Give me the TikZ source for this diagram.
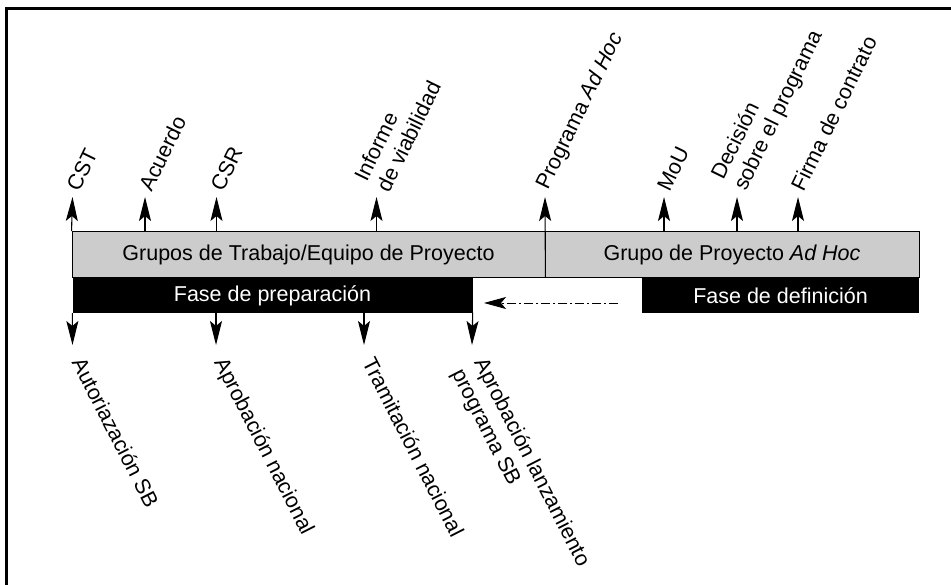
\documentclass[tikz,border=0pt]{standalone}
\usepackage{fontspec}
\setmainfont{Liberation Sans}
\usetikzlibrary{arrows.meta,calc}

\tikzset{
  lbl/.style={font=\fontsize{21.5}{25}\selectfont, inner sep=0pt, align=left},
  uplbl/.style={lbl, rotate=64, anchor=south west},
  dnlbl/.style={lbl, rotate=-63, anchor=north west},
  graybox/.style={draw=black, line width=0.9pt, fill=black!20, inner sep=0pt,
    font=\fontsize{21.5}{25}\selectfont},
  blackbox/.style={fill=black, text=white, inner sep=0pt,
    font=\fontsize{21.5}{25}\selectfont},
  milestone/.style={line width=1.1pt,
    -{Stealth[length=24pt,width=12pt,inset=5pt]}},
  backflow/.style={line width=0.9pt, dash pattern=on 9pt off 3pt on 2pt off 3pt,
    -{Stealth[length=22pt,width=12pt,inset=5pt]}},
  frameline/.style={line width=3pt}
}

\begin{document}
\begin{tikzpicture}[x=1pt, y=-1pt]
  \useasboundingbox (0,0) rectangle (951,585);

  % open frame: top and left rules only
  \draw[frameline] (6.5,585) -- (6.5,8.5) -- (951,8.5);

  % team bars
  \node[graybox, minimum width=473pt, minimum height=46pt] (gt) at (308.5,254.5)
    {Grupos de Trabajo/Equipo de Proyecto};
  \node[graybox, minimum width=374pt, minimum height=46pt] (gp) at (732,254.5)
    {Grupo de Proyecto \textit{Ad Hoc}};

  % phase bars
  \node[blackbox, minimum width=400pt, minimum height=35pt] (fp) at (272.5,295.5)
    {Fase de preparación};
  \node[blackbox, minimum width=277pt, minimum height=35pt] (fd) at (780.5,295.5)
    {Fase de definición};

  % milestones above the bars
  \foreach \n/\x in {cst/72.5, acu/145, csr/216.5, inf/376.5, pah/545,
                     mou/664, dec/737, fir/798}{
    \coordinate (\n-tip) at (\x,197);
  }
  \draw[milestone] (gt.north west) -- (cst-tip);
  \draw[milestone] (gt.north west -| acu-tip) -- (acu-tip);
  \draw[milestone] (gt.north west -| csr-tip) -- (csr-tip);
  \draw[milestone] (gt.north west -| inf-tip) -- (inf-tip);
  \draw[milestone] (gt.south east) -- (pah-tip);
  \draw[milestone] (gp.north west -| mou-tip) -- (mou-tip);
  \draw[milestone] (gp.north west -| dec-tip) -- (dec-tip);
  \draw[milestone] (gp.north west -| fir-tip) -- (fir-tip);

  \node[uplbl] (cst) at ($(cst-tip)+(7,-4)$) {CST};
  \node[uplbl] (acu) at ($(acu-tip)+(7,-4)$) {Acuerdo};
  \node[uplbl] (csr) at ($(csr-tip)+(7,-4)$) {CSR};
  \node[uplbl] (inf) at ($(inf-tip)+(13,-3)$) {Informe\\de viabilidad};
  \node[uplbl] (pah) at ($(pah-tip)+(7,-4)$) {Programa \textit{Ad Hoc}};
  \node[uplbl] (mou) at ($(mou-tip)+(6,-4)$) {MoU};
  \node[uplbl] (dec) at ($(dec-tip)+(13,-3)$) {Decisión\\sobre el programa};
  \node[uplbl] (fir) at ($(fir-tip)+(6,-4)$) {Firma de contrato};

  % milestones below the bars
  \foreach \n/\x in {aut/72.5, apn/216, tra/364, apl/472}{
    \coordinate (\n-tip) at (\x,345);
  }
  \draw[milestone] (fp.south west) -- (aut-tip);
  \draw[milestone] (fp.south west -| apn-tip) -- (apn-tip);
  \draw[milestone] (fp.south west -| tra-tip) -- (tra-tip);
  \draw[milestone] (fp.south east) -- (apl-tip);

  \node[dnlbl] (aut) at ($(aut-tip)+(13,10)$) {Autoriazación SB};
  \node[dnlbl] (apn) at ($(apn-tip)+(12,10)$) {Aprobación nacional};
  \node[dnlbl] (tra) at ($(tra-tip)+(12,10)$) {Tramitación nacional};
  \node[dnlbl] (apl) at ($(apl-tip)+(16,10)$) {Aprobación lanzamiento\\programa SB};

  % feedback from definition to preparation
  \coordinate (fb-start) at (618,303);
  \coordinate (fb-end) at (484,303);
  \draw[backflow] (fb-start) -- (fb-end);
\end{tikzpicture}
\end{document}
